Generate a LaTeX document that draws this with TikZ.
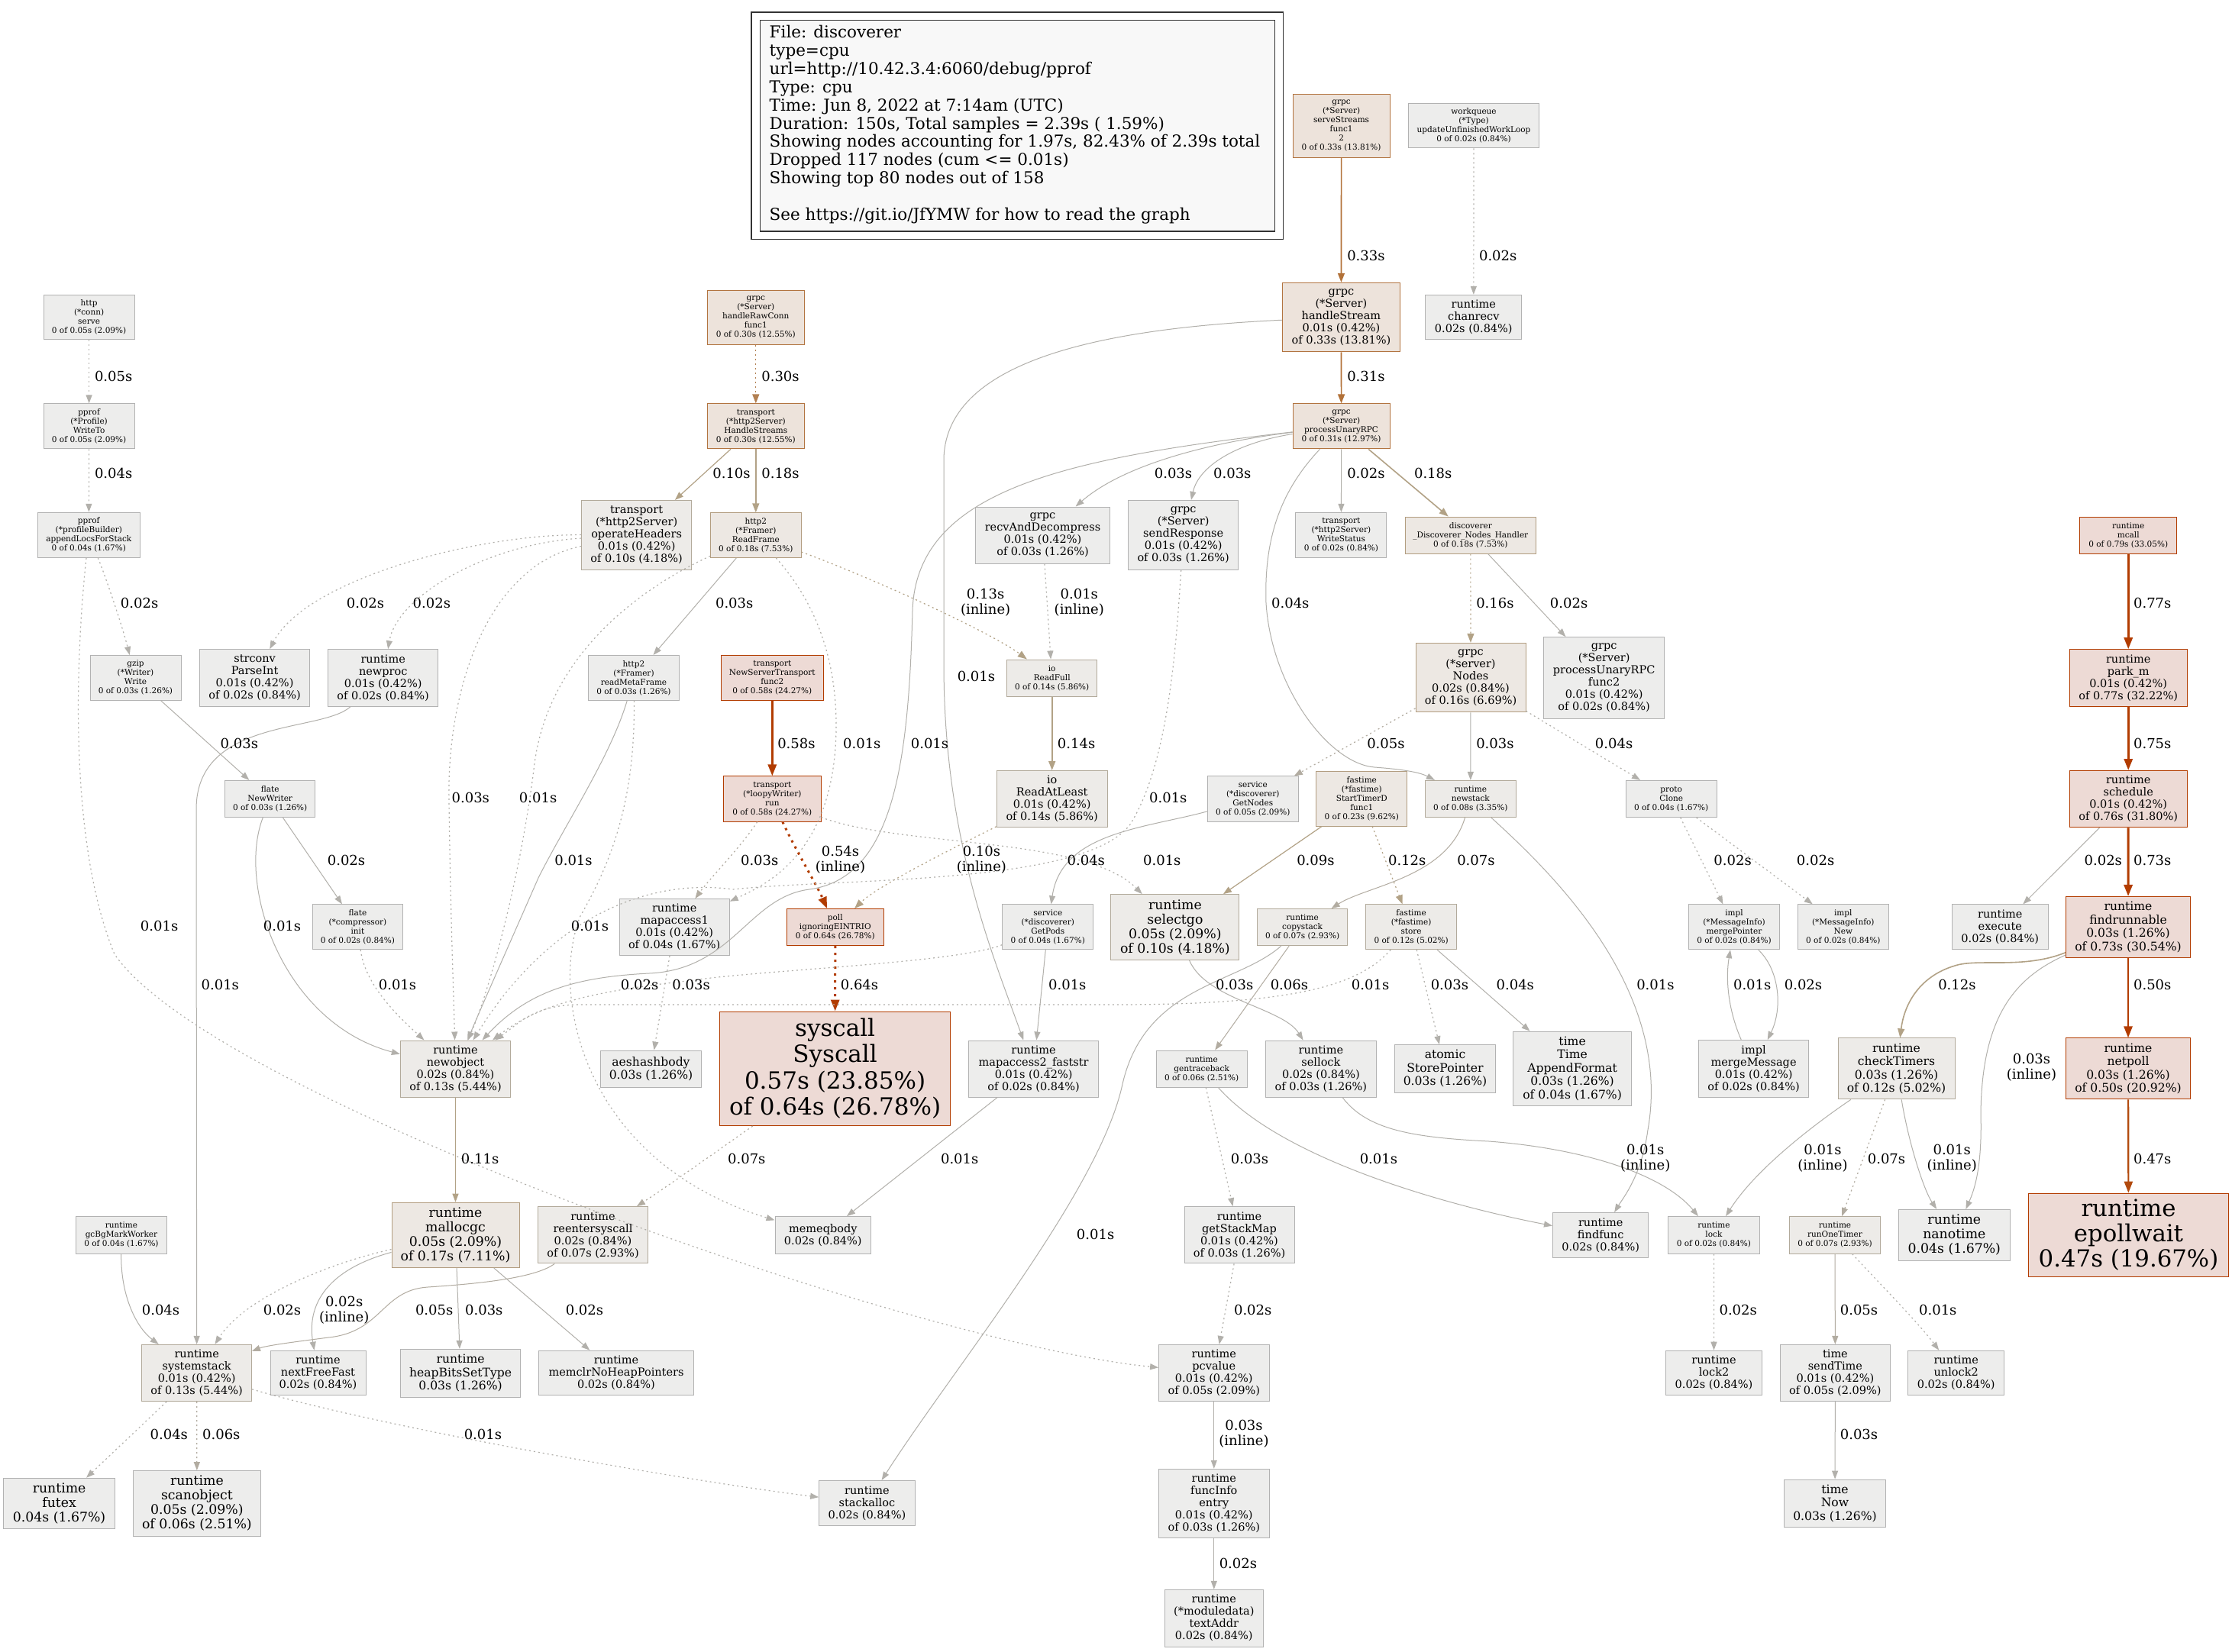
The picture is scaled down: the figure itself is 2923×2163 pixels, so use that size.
\documentclass[tikz,border=0pt]{standalone}
\usepackage{fontspec}
\setmainfont{DejaVu Serif}
\usetikzlibrary{arrows.meta}
\definecolor{gF}{HTML}{EDEDEC}
\definecolor{gD}{HTML}{B2B2B2}
\definecolor{lF}{HTML}{EDEBE8}
\definecolor{lD}{HTML}{B2AA9B}
\definecolor{tF}{HTML}{EDE8E3}
\definecolor{tD}{HTML}{B29D80}
\definecolor{oF}{HTML}{EDE3DB}
\definecolor{oD}{HTML}{B27440}
\definecolor{hF}{HTML}{EDDAD5}
\definecolor{hD}{HTML}{B23C00}
\definecolor{legF}{HTML}{F8F8F8}
\definecolor{eG}{HTML}{B2B0AB}
\definecolor{eL}{HTML}{B2ACA1}
\definecolor{eT}{HTML}{B2A286}
\definecolor{eO}{HTML}{B27138}
\definecolor{eO2}{HTML}{B28052}
\definecolor{eH}{HTML}{B23C00}
\definecolor{eH2}{HTML}{B24A0E}
\begin{document}
\begin{tikzpicture}[x=1pt,y=-1pt,
 bx/.style={rectangle,align=center,inner sep=0pt,line width=1pt},
 sz/.style 2 args={minimum width=#1pt,minimum height=#2pt},
 ng/.style={bx,fill=gF,draw=gD},
 nl/.style={bx,fill=lF,draw=lD},
 nt/.style={bx,fill=tF,draw=tD},
 no/.style={bx,fill=oF,draw=oD},
 nh/.style={bx,fill=hF,draw=hD},
 fs/.style={font=\fontsize{10.5}{12}\selectfont},
 fm/.style={font=\fontsize{14.5}{16}\selectfont},
 fn/.style={font=\fontsize{15.6}{17.5}\selectfont},
 fl/.style={font=\fontsize{17.3}{19}\selectfont},
 lb/.style={font=\fontsize{18}{20}\selectfont,inner sep=0pt,align=center},
 lg/.style={font=\fontsize{21.5}{24}\selectfont,inner sep=0pt,anchor=base west},
 ed/.style={-{Triangle[length=11pt,width=8pt]},line width=1pt},
 edm/.style={-{Triangle[length=12pt,width=9pt]},line width=1.6pt},
 edh/.style={-{Triangle[length=15pt,width=11pt]},line width=3pt},
 dt/.style={line width=1.2pt,dash pattern=on 2pt off 4pt},
 dth/.style={dash pattern=on 3pt off 6pt}]
\useasboundingbox (0,0) rectangle (2923,2163);
\fill[white] (0,0) rectangle (2923,2163);
% legend
\draw[line width=1.2pt,draw=black!80] (984,16) rectangle (1680.4,313.6);
\draw[line width=1.2pt,draw=black!80,fill=legF] (995.7,26.7) rectangle (1669.1,302.9);
\node[lg] (lg1) at (1007.5,49.5) {File: discoverer};
\node[lg] (lg2) at (1007.5,73.4) {type=cpu};
\node[lg] (lg3) at (1007.5,97.3) {url=http://10.42.3.4:6060/debug/pprof};
\node[lg] (lg4) at (1007.5,121.2) {Type: cpu};
\node[lg] (lg5) at (1007.5,145.1) {Time: Jun 8, 2022 at 7:14am (UTC)};
\node[lg] (lg6) at (1007.5,169.0) {Duration: 150s, Total samples = 2.39s ( 1.59\%)};
\node[lg] (lg7) at (1007.5,192.9) {Showing nodes accounting for 1.97s, 82.43\% of 2.39s total};
\node[lg] (lg8) at (1007.5,216.8) {Dropped 117 nodes (cum <= 0.01s)};
\node[lg] (lg9) at (1007.5,240.7) {Showing top 80 nodes out of 158};
\node[lg] (lg10) at (1007.5,288.5) {See https://git.io/JfYMW for how to read the graph};
% ---------- nodes ----------
\node[ng,fs,sz={119}{58.6}] (httpserve) at (116.6,415.6) {http\\(*conn)\\serve\\0 of 0.05s (2.09\%)};
\node[ng,fs,sz={119}{59}] (writeto) at (116.6,558.4) {pprof\\(*Profile)\\WriteTo\\0 of 0.05s (2.09\%)};
\node[ng,fs,sz={133.5}{59}] (appendlocs) at (116.3,700.8) {pprof\\(*profileBuilder)\\appendLocsForStack\\0 of 0.04s (1.67\%)};
\node[no,fs,sz={127}{70.8}] (rawconn) at (989.8,415.9) {grpc\\(*Server)\\handleRawConn\\func1\\0 of 0.30s (12.55\%)};
\node[no,fs,sz={127}{59}] (handlestreams) at (989.8,558.4) {transport\\(*http2Server)\\HandleStreams\\0 of 0.30s (12.55\%)};
\node[nl,fm,sz={144}{91}] (opheaders) at (833.6,700.9) {transport\\(*http2Server)\\operateHeaders\\0.01s (0.42\%)\\of 0.10s (4.18\%)};
\node[nt,fs,sz={118.4}{58.6}] (readframe) at (989.8,701.1) {http2\\(*Framer)\\ReadFrame\\0 of 0.18s (7.53\%)};
\node[ng,fm,sz={176}{74.2}] (recvdec) at (1365.5,701.1) {grpc\\recvAndDecompress\\0.01s (0.42\%)\\of 0.03s (1.26\%)};
\node[no,fs,sz={127}{83}] (servestreams) at (1756.6,164.6) {grpc\\(*Server)\\serveStreams\\func1\\2\\0 of 0.33s (13.81\%)};
\node[ng,fs,sz={171}{58.6}] (workqueue) at (1930,164.6) {workqueue\\(*Type)\\updateUnfinishedWorkLoop\\0 of 0.02s (0.84\%)};
\node[no,fm,sz={154}{90.6}] (handlestream) at (1756.4,415.6) {grpc\\(*Server)\\handleStream\\0.01s (0.42\%)\\of 0.33s (13.81\%)};
\node[ng,fm,sz={126}{58.6}] (chanrecv) at (1929.8,415.6) {runtime\\chanrecv\\0.02s (0.84\%)};
\node[no,fs,sz={127}{59}] (pur) at (1756.6,558.4) {grpc\\(*Server)\\processUnaryRPC\\0 of 0.31s (12.97\%)};
\node[ng,fm,sz={144.4}{91}] (sendresp) at (1549.7,700.9) {grpc\\(*Server)\\sendResponse\\0.01s (0.42\%)\\of 0.03s (1.26\%)};
\node[ng,fs,sz={119}{59}] (writestatus) at (1756.4,700.9) {transport\\(*http2Server)\\WriteStatus\\0 of 0.02s (0.84\%)};
\node[nt,fs,sz={171}{48}] (nodeshandler) at (1925.8,701.1) {discoverer\\\_Discoverer\_Nodes\_Handler\\0 of 0.18s (7.53\%)};
\node[nh,fs,sz={127.5}{48}] (mcall) at (2787.2,701.1) {runtime\\mcall\\0 of 0.79s (33.05\%)};
\node[ng,fs,sz={119}{58.8}] (gzip) at (177.5,887.9) {gzip\\(*Writer)\\Write\\0 of 0.03s (1.26\%)};
\node[ng,fm,sz={144.4}{74.8}] (parseint) at (333.6,888.1) {strconv\\ParseInt\\0.01s (0.42\%)\\of 0.02s (0.84\%)};
\node[ng,fm,sz={144.5}{74.8}] (newproc) at (501.7,888.1) {runtime\\newproc\\0.01s (0.42\%)\\of 0.02s (0.84\%)};
\node[ng,fs,sz={119}{58.8}] (readmeta) at (830,887.9) {http2\\(*Framer)\\readMetaFrame\\0 of 0.03s (1.26\%)};
\node[nh,fs,sz={134}{58.8}] (nstfunc2) at (1011.3,887.9) {transport\\NewServerTransport\\func2\\0 of 0.58s (24.27\%)};
\node[nl,fs,sz={118.4}{48.2}] (readfull) at (1377.7,888.1) {io\\ReadFull\\0 of 0.14s (5.86\%)};
\node[nt,fm,sz={144}{90.5}] (nodes) at (1926,887.6) {grpc\\(*server)\\Nodes\\0.02s (0.84\%)\\of 0.16s (6.69\%)};
\node[ng,fm,sz={158}{106.5}] (purfunc2) at (2100.6,887.9) {grpc\\(*Server)\\processUnaryRPC\\func2\\0.01s (0.42\%)\\of 0.02s (0.84\%)};
\node[nh,fm,sz={154}{74.8}] (parkm) at (2787.2,888.1) {runtime\\park\_m\\0.01s (0.42\%)\\of 0.77s (32.22\%)};
\node[ng,fs,sz={118.4}{48.2}] (newwriter) at (353.7,1046.5) {flate\\NewWriter\\0 of 0.03s (1.26\%)};
\node[nh,fs,sz={127.4}{59.2}] (loopy) at (1011.3,1046.5) {transport\\(*loopyWriter)\\run\\0 of 0.58s (24.27\%)};
\node[nl,fm,sz={145}{74}] (readatleast) at (1377.7,1046.5) {io\\ReadAtLeast\\0.01s (0.42\%)\\of 0.14s (5.86\%)};
\node[ng,fs,sz={119}{59.2}] (getnodes) at (1640.8,1046.5) {service\\(*discoverer)\\GetNodes\\0 of 0.05s (2.09\%)};
\node[nt,fs,sz={119}{71.2}] (starttimer) at (1783.3,1046.5) {fastime\\(*fastime)\\StartTimerD\\func1\\0 of 0.23s (9.62\%)};
\node[nl,fs,sz={119}{48.2}] (newstack) at (1925.8,1046.5) {runtime\\newstack\\0 of 0.08s (3.35\%)};
\node[ng,fs,sz={119}{48.2}] (clone) at (2188.7,1046.5) {proto\\Clone\\0 of 0.04s (1.67\%)};
\node[nh,fm,sz={154}{74.4}] (schedule) at (2787.2,1046.7) {runtime\\schedule\\0.01s (0.42\%)\\of 0.76s (31.80\%)};
\node[ng,fs,sz={118.4}{58.8}] (flateinit) at (468.4,1214.3) {flate\\(*compressor)\\init\\0 of 0.02s (0.84\%)};
\node[ng,fm,sz={144}{74}] (mapaccess1) at (883.2,1214.6) {runtime\\mapaccess1\\0.01s (0.42\%)\\of 0.04s (1.67\%)};
\node[nh,fs,sz={126.5}{48.2}] (poll) at (1093.8,1214.6) {poll\\ignoringEINTRIO\\0 of 0.64s (26.78\%)};
\node[ng,fs,sz={119}{58.8}] (getpods) at (1372.3,1214.3) {service\\(*discoverer)\\GetPods\\0 of 0.04s (1.67\%)};
\node[nl,fl,sz={168}{85.9}] (selectgo) at (1538.9,1214.6) {runtime\\selectgo\\0.05s (2.09\%)\\of 0.10s (4.18\%)};
\node[nl,fs,sz={118.5}{48.2}] (copystack) at (1705.6,1214.6) {runtime\\copystack\\0 of 0.07s (2.93\%)};
\node[nl,fs,sz={118.5}{58.8}] (store) at (1848.1,1214.3) {fastime\\(*fastime)\\store\\0 of 0.12s (5.02\%)};
\node[ng,fs,sz={119.4}{58.8}] (mergeptr) at (2271,1214.3) {impl\\(*MessageInfo)\\mergePointer\\0 of 0.02s (0.84\%)};
\node[ng,fs,sz={119}{58.8}] (infonew) at (2413.8,1214.3) {impl\\(*MessageInfo)\\New\\0 of 0.02s (0.84\%)};
\node[ng,fm,sz={126}{58.8}] (execute) at (2619.3,1214.3) {runtime\\execute\\0.02s (0.84\%)};
\node[nh,fn,sz={163}{80.3}] (findrunnable) at (2787,1214.6) {runtime\\findrunnable\\0.03s (1.26\%)\\of 0.73s (30.54\%)};
\node[nl,fm,sz={144.4}{74}] (newobject) at (596.5,1400) {runtime\\newobject\\0.02s (0.84\%)\\of 0.13s (5.44\%)};
\node[ng,fn,sz={131.7}{48.2}] (aeshash) at (852.5,1400.1) {aeshashbody\\0.03s (1.26\%)};
\node[nh,font=\fontsize{31}{34.4}\selectfont,sz={302.5}{149.6}] (syscall) at (1093.6,1399.8) {syscall\\Syscall\\0.57s (23.85\%)\\of 0.64s (26.78\%)};
\node[ng,fm,sz={169.5}{74}] (mapaccess2) at (1353.6,1400) {runtime\\mapaccess2\_faststr\\0.01s (0.42\%)\\of 0.02s (0.84\%)};
\node[ng,fs,sz={119}{48.2}] (gentraceback) at (1573.7,1400.1) {runtime\\gentraceback\\0 of 0.06s (2.51\%)};
\node[ng,fm,sz={144.4}{74}] (sellock) at (1729.9,1400) {runtime\\sellock\\0.02s (0.84\%)\\of 0.03s (1.26\%)};
\node[ng,fn,sz={131.7}{62.5}] (storeptr) at (1892.5,1399.9) {atomic\\StorePointer\\0.03s (1.26\%)};
\node[ng,fn,sz={154.3}{96.8}] (appendformat) at (2059.1,1399.6) {time\\Time\\AppendFormat\\0.03s (1.26\%)\\of 0.04s (1.67\%)};
\node[ng,fm,sz={144}{74.4}] (mergemsg) at (2296.6,1399.8) {impl\\mergeMessage\\0.01s (0.42\%)\\of 0.02s (0.84\%)};
\node[nl,fn,sz={153}{80}] (checktimers) at (2483.5,1399.9) {runtime\\checkTimers\\0.03s (1.26\%)\\of 0.12s (5.02\%)};
\node[nh,fn,sz={163}{80}] (netpoll) at (2787,1399.9) {runtime\\netpoll\\0.03s (1.26\%)\\of 0.50s (20.92\%)};
\node[ng,fs,sz={119}{48.4}] (gcbg) at (159,1617.8) {runtime\\gcBgMarkWorker\\0 of 0.04s (1.67\%)};
\node[nt,fl,sz={167}{85.3}] (mallocgc) at (596.5,1617.8) {runtime\\mallocgc\\0.05s (2.09\%)\\of 0.17s (7.11\%)};
\node[nl,fm,sz={144}{74.3}] (reenter) at (776.5,1617.8) {runtime\\reentersyscall\\0.02s (0.84\%)\\of 0.07s (2.93\%)};
\node[ng,fm,sz={125.6}{48.4}] (memeq) at (1077.8,1617.8) {memeqbody\\0.02s (0.84\%)};
\node[ng,fm,sz={144}{74.3}] (getstackmap) at (1623,1617.8) {runtime\\getStackMap\\0.01s (0.42\%)\\of 0.03s (1.26\%)};
\node[ng,fm,sz={125.5}{58.5}] (findfunc) at (2096.2,1617.8) {runtime\\findfunc\\0.02s (0.84\%)};
\node[ng,fs,sz={119.4}{48.4}] (lock) at (2244.4,1617.8) {runtime\\lock\\0 of 0.02s (0.84\%)};
\node[nl,fs,sz={119}{48.4}] (runonetimer) at (2403,1617.8) {runtime\\runOneTimer\\0 of 0.07s (2.93\%)};
\node[ng,fl,sz={145.4}{66.9}] (nanotime) at (2559.3,1617.8) {runtime\\nanotime\\0.04s (1.67\%)};
\node[nh,font=\fontsize{30.8}{33}\selectfont,sz={261.5}{109.8}] (epollwait) at (2787.5,1618) {runtime\\epollwait\\0.47s (19.67\%)};
\node[nl,fm,sz={143.5}{74.2}] (systemstack) at (257.7,1798.5) {runtime\\systemstack\\0.01s (0.42\%)\\of 0.13s (5.44\%)};
\node[ng,fm,sz={125}{58.6}] (nextfree) at (416.5,1798.5) {runtime\\nextFreeFast\\0.02s (0.84\%)};
\node[ng,fn,sz={157.6}{62.7}] (heapbits) at (603.1,1798.7) {runtime\\heapBitsSetType\\0.03s (1.26\%)};
\node[ng,fm,sz={203}{58.6}] (memclr) at (807,1798.5) {runtime\\memclrNoHeapPointers\\0.02s (0.84\%)};
\node[ng,fm,sz={144.4}{74.2}] (pcvalue) at (1589.8,1798.5) {runtime\\pcvalue\\0.01s (0.42\%)\\of 0.05s (2.09\%)};
\node[ng,fm,sz={126}{58.6}] (lock2) at (2244.5,1798.5) {runtime\\lock2\\0.02s (0.84\%)};
\node[ng,fm,sz={144.5}{74.2}] (sendtime) at (2403.4,1798.5) {time\\sendTime\\0.01s (0.42\%)\\of 0.05s (2.09\%)};
\node[ng,fm,sz={125.6}{58.6}] (unlock2) at (2561.7,1798.5) {runtime\\unlock2\\0.02s (0.84\%)};
\node[ng,fl,sz={145.8}{66.3}] (futex) at (77.6,1969.4) {runtime\\futex\\0.04s (1.67\%)};
\node[ng,fl,sz={166.6}{85.7}] (scanobject) at (257.9,1969.4) {runtime\\scanobject\\0.05s (2.09\%)\\of 0.06s (2.51\%)};
\node[ng,fm,sz={125.5}{59}] (stackalloc) at (1135.4,1968.9) {runtime\\stackalloc\\0.02s (0.84\%)};
\node[ng,fm,sz={144.4}{90.3}] (funcinfo) at (1589.8,1969.4) {runtime\\funcInfo\\entry\\0.01s (0.42\%)\\of 0.03s (1.26\%)};
\node[ng,fn,sz={132.2}{62.7}] (timenow) at (2403,1969.4) {time\\Now\\0.03s (1.26\%)};
\node[ng,fm,sz={129.3}{74.7}] (textaddr) at (1589.8,2119.7) {runtime\\(*moduledata)\\textAddr\\0.02s (0.84\%)};
% ---------- edges ----------
\draw[ed,dt,draw=eG] (httpserve) -- (writeto);
\draw[ed,dt,draw=eG] (writeto) -- (appendlocs);
\draw[ed,dt,draw=eG] (appendlocs) .. controls (140,760) and (160,820) .. (gzip);
\draw[ed,dt,draw=eG] (appendlocs) .. controls (100,850) and (88,1100) .. (150,1250) .. controls (280,1440) and (1200,1760) .. (pcvalue);
\draw[ed,draw=eG] (gzip) -- (newwriter);
\draw[ed,draw=eG] (newwriter) -- (flateinit);
\draw[ed,draw=eG] (newwriter) .. controls (310,1160) and (370,1340) .. (newobject);
\draw[ed,dt,draw=eG] (flateinit) .. controls (478,1290) and (520,1330) .. (newobject);
\draw[ed,draw=eG] (newproc) .. controls (420,960) and (257,940) .. (257,1060) -- (systemstack);
\draw[ed,draw=eT,line width=1.2pt] (handlestreams) -- (opheaders);
\draw[edm,draw=eT] (handlestreams) -- (readframe);
\draw[ed,dt,draw=eG] (opheaders) .. controls (620,700) and (400,760) .. (parseint);
\draw[ed,dt,draw=eG] (opheaders) .. controls (640,712) and (520,780) .. (newproc);
\draw[ed,dt,draw=eG] (opheaders) .. controls (640,740) and (585,900) .. (588,1050) .. controls (590,1200) and (594,1300) .. (newobject);
\draw[ed,draw=eG] (readframe) -- (readmeta);
\draw[edm,dt,draw=eT] (readframe) .. controls (1150,760) and (1300,830) .. (readfull);
\draw[ed,dt,draw=eG] (readframe) .. controls (850,765) and (720,850) .. (700,1000) .. controls (682,1150) and (640,1300) .. (newobject);
\draw[ed,dt,draw=eG] (readframe) .. controls (1060,780) and (1095,850) .. (1095,950) .. controls (1095,1120) and (1000,1160) .. (mapaccess1);
\draw[ed,draw=eG] (readmeta) .. controls (800,990) and (740,1080) .. (705,1150) .. controls (670,1230) and (630,1320) .. (newobject);
\draw[ed,dt,draw=eG] (readmeta) .. controls (832,1050) and (800,1130) .. (760,1200) .. controls (720,1300) and (760,1520) .. (memeq);
\draw[edh,draw=eH] (nstfunc2) -- (loopy);
\draw[edh,dth,draw=eH] (loopy) .. controls (1040,1110) and (1070,1160) .. (poll);
\draw[edh,dth,draw=eH] (poll) -- (syscall);
\draw[ed,dt,draw=eL] (loopy) .. controls (970,1110) and (930,1150) .. (mapaccess1);
\draw[ed,dt,draw=eG] (loopy) .. controls (1180,1110) and (1420,1095) .. (selectgo);
\draw[edm,draw=eT] (readfull) -- (readatleast);
\draw[edm,dt,draw=eT] (readatleast) .. controls (1250,1110) and (1150,1160) .. (poll);
\draw[ed,dt,draw=eG] (recvdec) -- (readfull);
\draw[ed,dt,draw=eL] (syscall) .. controls (950,1500) and (880,1550) .. (reenter);
\draw[ed,draw=eG] (mapaccess2) -- (memeq);
\draw[ed,dt,draw=eG] (mapaccess1) -- (aeshash);
\draw[ed,draw=eT,line width=1.2pt] (newobject) -- (mallocgc);
\draw[ed,dt,draw=eG] (mallocgc) .. controls (430,1655) and (320,1700) .. (systemstack);
\draw[ed,draw=eG] (mallocgc) .. controls (440,1660) and (400,1700) .. (nextfree);
\draw[ed,draw=eG] (mallocgc) -- (heapbits);
\draw[ed,draw=eG] (mallocgc) -- (memclr);
\draw[ed,draw=eL] (reenter) .. controls (700,1675) and (620,1682) .. (560,1686) .. controls (500,1690) and (500,1745) .. (430,1752) .. controls (400,1756) and (350,1762) .. (systemstack);
\draw[ed,draw=eG] (gcbg) .. controls (158,1700) and (180,1740) .. (systemstack);
\draw[ed,dt,draw=eG] (systemstack) -- (futex);
\draw[ed,dt,draw=eL] (systemstack) -- (scanobject);
\draw[ed,dt,draw=eG] (systemstack) .. controls (500,1870) and (900,1940) .. (stackalloc);
\draw[edm,draw=eO] (servestreams) -- (handlestream);
\draw[ed,dt,draw=eG] (workqueue) -- (chanrecv);
\draw[edm,dt,draw=eO2] (rawconn) -- (handlestreams);
\draw[edm,draw=eO] (handlestream) -- (pur);
\draw[ed,draw=eG] (handlestream) .. controls (1450,430) and (1240,470) .. (1236,600) -- (1236,870) .. controls (1236,1100) and (1300,1250) .. (mapaccess2);
\draw[ed,draw=eG] (pur) .. controls (1580,580) and (1470,610) .. (recvdec);
\draw[ed,draw=eG] (pur) .. controls (1620,580) and (1570,610) .. (sendresp);
\draw[ed,draw=eG] (pur) -- (writestatus);
\draw[edm,draw=eT] (pur) -- (nodeshandler);
\draw[ed,draw=eG] (pur) .. controls (1680,640) and (1655,700) .. (1658,790) .. controls (1665,900) and (1740,1000) .. (1800,1005) .. controls (1840,1008) and (1860,1012) .. (newstack);
\draw[ed,draw=eG] (pur) .. controls (1400,600) and (1200,640) .. (1195,800) .. controls (1190,1000) and (1170,1150) .. (1060,1165) .. controls (980,1175) and (960,1270) .. (850,1275) .. controls (750,1280) and (690,1300) .. (newobject);
\draw[ed,dt,draw=eG] (sendresp) .. controls (1540,850) and (1530,1000) .. (1480,1080) .. controls (1420,1160) and (1100,1150) .. (960,1165) .. controls (850,1150) and (720,1200) .. (newobject);
\draw[edm,dt,draw=eT] (nodeshandler) -- (nodes);
\draw[ed,draw=eG] (nodeshandler) -- (purfunc2);
\draw[ed,dt,draw=eL] (nodes) -- (getnodes);
\draw[ed,draw=eG] (nodes) -- (newstack);
\draw[ed,dt,draw=eG] (nodes) -- (clone);
\draw[ed,draw=eG] (getnodes) .. controls (1500,1085) and (1390,1090) .. (getpods);
\draw[ed,draw=eG] (getpods) -- (mapaccess2);
\draw[ed,dt,draw=eG] (getpods) .. controls (1250,1262) and (1000,1270) .. (900,1285) .. controls (760,1300) and (700,1320) .. (newobject);
\draw[ed,draw=eT,line width=1.2pt] (starttimer) -- (selectgo);
\draw[edm,dt,draw=eT] (starttimer) -- (store);
\draw[ed,draw=eL] (newstack) .. controls (1895,1150) and (1790,1160) .. (copystack);
\draw[ed,draw=eG] (newstack) .. controls (2040,1150) and (2190,1300) .. (2158,1480) .. controls (2150,1540) and (2125,1570) .. (findfunc);
\draw[ed,dt,draw=eG] (clone) -- (mergeptr);
\draw[ed,dt,draw=eG] (clone) -- (infonew);
\draw[ed,draw=eL] (copystack) -- (gentraceback);
\draw[ed,draw=eG] (copystack) .. controls (1620,1290) and (1500,1290) .. (1470,1420) .. controls (1440,1560) and (1250,1790) .. (stackalloc);
\draw[ed,draw=eG] (selectgo) .. controls (1580,1310) and (1680,1320) .. (sellock);
\draw[ed,dt,draw=eG] (store) -- (storeptr);
\draw[ed,draw=eG] (store) -- (appendformat);
\draw[ed,dt,draw=eG] (store) .. controls (1780,1290) and (1700,1316) .. (1460,1316) -- (760,1316) .. controls (700,1316) and (680,1340) .. (newobject);
\draw[ed,dt,draw=eG] (gentraceback) -- (getstackmap);
\draw[ed,draw=eG] (gentraceback) .. controls (1680,1520) and (1900,1580) .. (findfunc);
\draw[ed,draw=eG] (sellock) .. controls (1790,1480) and (1850,1490) .. (1950,1495) .. controls (2080,1505) and (2180,1540) .. (lock);
\draw[ed,dt,draw=eG] (getstackmap) -- (pcvalue);
\draw[ed,draw=eG] (pcvalue) -- (funcinfo);
\draw[ed,draw=eG] (funcinfo) -- (textaddr);
\draw[ed,draw=eG] (mergemsg) .. controls (2262,1320) and (2260,1280) .. (mergeptr);
\draw[ed,draw=eG] (mergeptr) .. controls (2330,1270) and (2335,1320) .. (mergemsg);
\draw[edh,draw=eH] (mcall) -- (parkm);
\draw[edh,draw=eH] (parkm) -- (schedule);
\draw[ed,draw=eG] (schedule) -- (execute);
\draw[edh,draw=eH] (schedule) -- (findrunnable);
\draw[edm,draw=eT] (findrunnable) .. controls (2650,1270) and (2590,1255) .. (2560,1265) .. controls (2510,1280) and (2493,1320) .. (checktimers);
\draw[ed,draw=eG] (findrunnable) .. controls (2640,1280) and (2595,1330) .. (2594,1460) .. controls (2596,1530) and (2585,1560) .. (nanotime);
\draw[edh,draw=eH,line width=2.6pt] (findrunnable) -- (netpoll);
\draw[edh,draw=eH2,line width=2.2pt] (netpoll) -- (epollwait);
\draw[ed,draw=eG] (checktimers) .. controls (2380,1470) and (2300,1530) .. (lock);
\draw[ed,dt,draw=eL] (checktimers) -- (runonetimer);
\draw[ed,draw=eG] (checktimers) .. controls (2500,1500) and (2520,1560) .. (nanotime);
\draw[ed,dt,draw=eG] (lock) -- (lock2);
\draw[ed,draw=eL] (runonetimer) -- (sendtime);
\draw[ed,dt,draw=eG] (runonetimer) .. controls (2460,1680) and (2510,1730) .. (unlock2);
\draw[ed,draw=eG] (sendtime) -- (timenow);
% ---------- edge labels ----------
\node[lb] (L1) at (148.7,493.4) {0.05s};
\node[lb] (L2) at (148.7,620.4) {0.04s};
\node[lb] (L3) at (182.6,789.6) {0.02s};
\node[lb] (L4) at (208.6,1213.4) {0.01s};
\node[lb] (L5) at (313.4,973.7) {0.03s};
\node[lb] (L6) at (453.5,1126.6) {0.02s};
\node[lb] (L7) at (369.5,1213.4) {0.01s};
\node[lb] (L8) at (520.5,1289.6) {0.01s};
\node[lb] (L9) at (288.3,1289.6) {0.01s};
\node[lb] (L10) at (1022,493.4) {0.30s};
\node[lb] (L11) at (958,620.4) {0.10s};
\node[lb] (L12) at (1022,620.4) {0.18s};
\node[lb] (L13) at (478.5,789.6) {0.02s};
\node[lb] (L14) at (565.4,789.6) {0.02s};
\node[lb] (L15) at (616.3,1045.4) {0.03s};
\node[lb] (L16) at (704.6,1045.4) {0.01s};
\node[lb] (L17) at (961.7,789.6) {0.03s};
\node[lb] (L18) at (1290.6,789.6) {0.13s\\(inline)};
\node[lb] (L19) at (1128.8,973.7) {0.01s};
\node[lb] (L20) at (751,1126.6) {0.01s};
\node[lb] (L21) at (772.5,1213.4) {0.01s};
\node[lb] (L22) at (1042.9,973.7) {0.58s};
\node[lb] (L23) at (1100.5,1126.6) {0.54s\\(inline)};
\node[lb] (L24) at (994.7,1126.6) {0.03s};
\node[lb] (L25) at (1521.8,1126.6) {0.01s};
\node[lb] (L26) at (1125.5,1289.6) {0.64s};
\node[lb] (L27) at (1409.6,973.7) {0.14s};
\node[lb] (L28) at (1285.4,1126.6) {0.10s\\(inline)};
\node[lb] (L29) at (1413.3,789.6) {0.01s\\(inline)};
\node[lb] (L30) at (977.8,1517.5) {0.07s};
\node[lb] (L31) at (1256.7,1517.5) {0.01s};
\node[lb] (L32) at (905.1,1289.6) {0.03s};
\node[lb] (L33) at (628.6,1517.5) {0.11s};
\node[lb] (L34) at (369.5,1715.7) {0.02s};
\node[lb] (L35) at (450.7,1715.7) {0.02s\\(inline)};
\node[lb] (L36) at (633.8,1715.7) {0.03s};
\node[lb] (L37) at (765.4,1715.7) {0.02s};
\node[lb] (L38) at (568.7,1715.7) {0.05s};
\node[lb] (L39) at (210.5,1715.7) {0.04s};
\node[lb] (L40) at (221.3,1878.5) {0.04s};
\node[lb] (L41) at (289.8,1878.5) {0.06s};
\node[lb] (L42) at (632.4,1878.5) {0.01s};
\node[lb] (L43) at (1788.9,335.4) {0.33s};
\node[lb] (L44) at (1961.7,335.4) {0.02s};
\node[lb] (L45) at (1788.9,493.4) {0.31s};
\node[lb] (L46) at (1278.4,886) {0.01s};
\node[lb] (L47) at (1536.5,620.4) {0.03s};
\node[lb] (L48) at (1613.8,620.4) {0.03s};
\node[lb] (L49) at (1788.9,620.4) {0.02s};
\node[lb] (L50) at (1876.7,620.4) {0.18s};
\node[lb] (L51) at (1689.8,789.6) {0.04s};
\node[lb] (L52) at (1217.5,973.7) {0.01s};
\node[lb] (L53) at (1529.8,1045.4) {0.01s};
\node[lb] (L54) at (1957.9,789.6) {0.16s};
\node[lb] (L55) at (2054.6,789.6) {0.02s};
\node[lb] (L56) at (1814.9,973.7) {0.05s};
\node[lb] (L57) at (1957.9,973.7) {0.03s};
\node[lb] (L58) at (2113.6,973.7) {0.04s};
\node[lb] (L59) at (1422.3,1126.6) {0.04s};
\node[lb] (L60) at (1397.8,1289.6) {0.01s};
\node[lb] (L61) at (837.6,1289.6) {0.02s};
\node[lb] (L62) at (1722.9,1126.6) {0.09s};
\node[lb] (L63) at (1842.7,1126.6) {0.12s};
\node[lb] (L64) at (1932.9,1126.6) {0.07s};
\node[lb] (L65) at (2167.9,1289.6) {0.01s};
\node[lb] (L66) at (2269.1,1126.6) {0.02s};
\node[lb] (L67) at (2377.6,1126.6) {0.02s};
\node[lb] (L68) at (1688.4,1289.6) {0.06s};
\node[lb] (L69) at (1434.6,1616.6) {0.01s};
\node[lb] (L70) at (1616.7,1289.6) {0.03s};
\node[lb] (L71) at (1898.4,1289.6) {0.03s};
\node[lb] (L72) at (1984.3,1289.6) {0.04s};
\node[lb] (L73) at (1794.6,1289.6) {0.01s};
\node[lb] (L74) at (1636.5,1517.5) {0.03s};
\node[lb] (L75) at (1805.4,1517.5) {0.01s};
\node[lb] (L76) at (2154.7,1517.5) {0.01s\\(inline)};
\node[lb] (L77) at (1640.7,1715.7) {0.02s};
\node[lb] (L78) at (1629,1878.5) {0.03s\\(inline)};
\node[lb] (L79) at (1621.4,2047.7) {0.02s};
\node[lb] (L80) at (2294.7,1289.6) {0.01s};
\node[lb] (L81) at (2361.5,1289.6) {0.02s};
\node[lb] (L82) at (2818.7,789.6) {0.77s};
\node[lb] (L83) at (2818.7,973.7) {0.75s};
\node[lb] (L84) at (2754.3,1126.6) {0.02s};
\node[lb] (L85) at (2818.7,1126.6) {0.73s};
\node[lb] (L86) at (2562.9,1289.6) {0.12s};
\node[lb] (L87) at (2660.5,1398.5) {0.03s\\(inline)};
\node[lb] (L88) at (2818.7,1289.6) {0.50s};
\node[lb] (L89) at (2818.7,1517.5) {0.47s};
\node[lb] (L90) at (2387,1517.5) {0.01s\\(inline)};
\node[lb] (L91) at (2470.5,1517.5) {0.07s};
\node[lb] (L92) at (2556.2,1517.5) {0.01s\\(inline)};
\node[lb] (L93) at (2276.2,1715.7) {0.02s};
\node[lb] (L94) at (2434.5,1715.7) {0.05s};
\node[lb] (L95) at (2537.8,1715.7) {0.01s};
\node[lb] (L96) at (2434.5,1878.5) {0.03s};
\end{tikzpicture}
\end{document}
